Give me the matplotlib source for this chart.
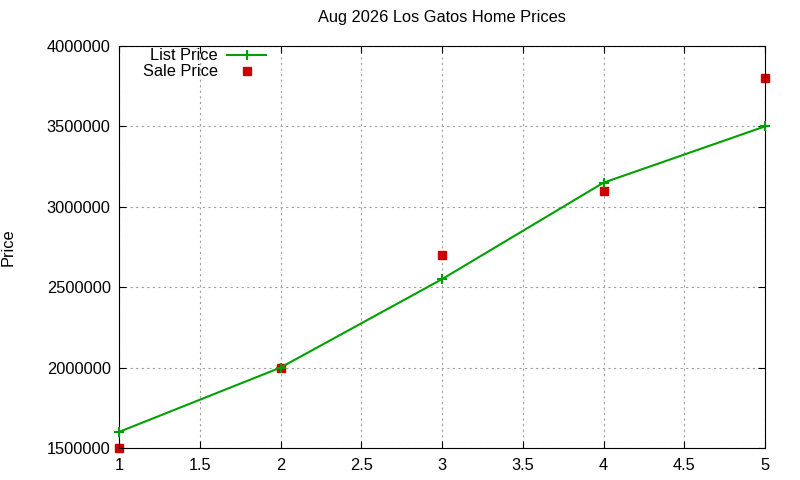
import matplotlib.pyplot as plt

plt.rcParams['font.family'] = ['Liberation Sans', 'DejaVu Sans']

months = [1, 2, 3, 4, 5]
list_price = [1600000, 2000000, 2550000, 3150000, 3500000]
sale_price = [1500000, 2000000, 2700000, 3100000, 3800000]

fs = 11.8

fig = plt.figure(figsize=(8, 4.8), dpi=100)
ax = fig.add_axes([119/800, 32/480, 646/800, 402/480])

ax.plot(months, list_price, color='#00a000', lw=1.5, marker='+', ms=7, mew=1.5,
        label='List Price', clip_on=False, zorder=3)
ax.plot(months, sale_price, ls='none', marker='s', ms=6, color='#cc0000',
        label='Sale Price', clip_on=False, zorder=2)

ax.set_xlim(1, 5)
ax.set_ylim(1500000, 4000000)
ax.set_xticks([1, 1.5, 2, 2.5, 3, 3.5, 4, 4.5, 5])
ax.set_xticklabels(['1', '1.5', '2', '2.5', '3', '3.5', '4', '4.5', '5'])
ax.set_yticks(range(1500000, 4000001, 500000))
ax.set_yticklabels([str(v) for v in range(1500000, 4000001, 500000)])
ax.tick_params(direction='in', top=True, right=True, labelsize=fs, length=5)
ax.tick_params(axis='x', pad=7)
ax.tick_params(axis='y', pad=6)
ax.grid(True, color='#a0a0a0', ls=(0, (2, 3)), lw=0.8)
ax.set_title('Aug 2026 Los Gatos Home Prices', fontsize=fs, pad=17)
ax.set_ylabel('Price', fontsize=fs, labelpad=22)

leg = ax.legend(loc='upper right', bbox_to_anchor=(0.232, 1.0), markerfirst=False,
                frameon=False, fontsize=fs, handlelength=2.4, handletextpad=0.55,
                labelspacing=0.05, borderaxespad=0.0, borderpad=0.15)
for t in leg.get_texts():
    t.set_ha('right')

fig.savefig('out.png')
